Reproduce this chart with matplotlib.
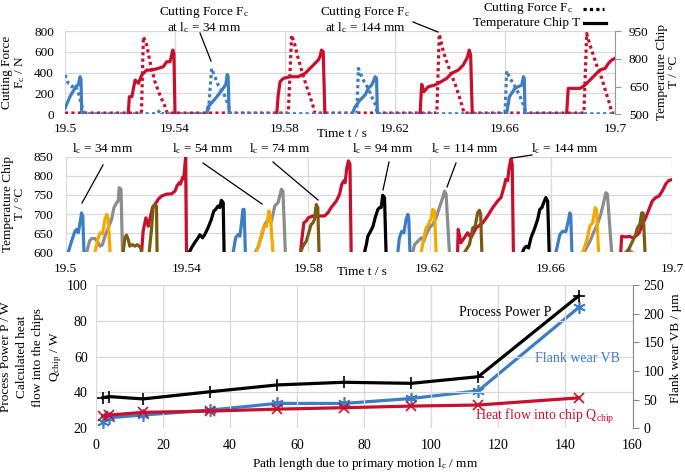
import numpy as np
import matplotlib
matplotlib.use("Agg")
import matplotlib.pyplot as plt
from matplotlib.lines import Line2D

plt.rcParams['font.family'] = 'Liberation Serif'
plt.rcParams['mathtext.fontset'] = 'custom'
plt.rcParams['mathtext.rm'] = 'Liberation Serif'
plt.rcParams['mathtext.it'] = 'Liberation Serif:italic'

W, H = 685, 473

# farben
blau = '#3C7DC4'
rot = '#C8102E'
orange = '#F5A800'
grau = '#8C8C8C'
braun = '#7B5A12'
gitter = '#D9D9D9'

# ---------------- panel 1: cutting force (N) over time offset in ms from 19.5 s
f_blue_ms = [0, 1.2, 2.4, 3.6, 4.8, 5.7, 6.7, 7.3, 33.5, 34.5, 35.3,
             52.1, 53.3, 54.5, 55.7, 57.0, 58.2, 59.4, 60.3,
             106.1, 106.7, 107.9, 109.1, 110.3, 111.5, 112.7, 113.6,
             160.0, 160.6, 161.8, 163.0, 164.3, 165.5, 166.7, 167.6, 200]
f_blue = [377, 297, 265, 281, 217, 121, 25, 5, 5, 40, 5,
          5, 441, 361, 281, 233, 169, 89, 5,
          5, 441, 361, 297, 249, 169, 105, 5,
          5, 416, 345, 297, 233, 169, 89, 5, 5]
f_red_ms = [0, 27.8, 28.5, 29.7, 30.9, 32.7, 34.5, 36.4, 37.2,
            81.2, 82.4, 83.6, 84.8, 86.7, 88.5, 90.1, 90.9,
            135.2, 136.1, 137.6, 138.8, 140.6, 142.4, 144.3, 145.1,
            188.7, 189.7, 190.9, 192.1, 193.3, 195.2, 197.0, 198.2, 198.8, 200]
f_red = [12, 12, 745, 665, 505, 313, 185, 73, 12,
         12, 761, 665, 537, 361, 217, 89, 12,
         12, 770, 601, 505, 377, 249, 89, 12,
         12, 777, 665, 569, 473, 345, 185, 89, 12, 12]

# panel 1: chip temperature pulses (°C)
temp34_pulses = [
    ([0, 1.8, 3.6, 4.2, 4.8, 5.5, 5.8, 6.1], [533, 595, 641, 655, 658, 703, 690, 500]),
    ([51.5, 52.0, 53.5, 55.5, 57.0, 58.0, 58.5, 59.0, 59.3, 59.7], [500, 540, 565, 600, 630, 650, 665, 715, 705, 500]),
    ([104.3, 105.5, 107.3, 109.1, 110.3, 111.5, 112.1, 112.8, 113.3, 113.6], [500, 541, 577, 604, 640, 658, 676, 703, 695, 500]),
    ([160.6, 161.6, 162.4, 163.6, 164.8, 166.1, 166.7, 167.0, 167.3], [500, 595, 613, 640, 649, 658, 703, 695, 500]),
]
temp144_pulses = [
    ([23.0, 23.4, 24.3, 25.5, 26.7, 27.9, 29.7, 31.5, 33.9, 35.7, 37.0, 38.2, 39.2, 39.6, 40.0],
     [500, 595, 595, 685, 668, 712, 739, 739, 748, 757, 784, 784, 847, 830, 500]),
    ([77.0, 77.5, 78.2, 79.4, 81.8, 84.8, 87.3, 89.1, 90.9, 92.1, 92.7, 93.3, 93.9, 94.5],
     [500, 600, 676, 694, 703, 703, 721, 748, 775, 793, 811, 847, 838, 500]),
    ([129.1, 129.7, 130.5, 132.1, 134.5, 136.4, 138.8, 140.6, 143.0, 144.8, 145.8, 146.4, 147.0, 147.5, 148.1],
     [500, 662, 622, 649, 658, 673, 694, 721, 739, 766, 793, 811, 847, 820, 500]),
    ([182.4, 183.0, 184.8, 187.3, 189.1, 190.9, 192.7, 194.5, 196.4, 197.6, 198.8, 200],
     [500, 640, 640, 640, 658, 685, 712, 739, 748, 775, 793, 802]),
]

# ---------------- panel 2: chip temperature for all path lengths
p2_lc34 = [
    ([0.8, 1.9, 3.0, 3.6, 4.1, 4.7, 5.2, 5.6, 6.0], [600, 629, 655, 660, 651, 677, 703, 694, 600]),
    ([55.2, 56.0, 56.8, 57.4, 57.9, 58.4, 58.8, 59.2], [600, 638, 646, 642, 673, 712, 712, 600]),
    ([109.5, 110.0, 110.8, 111.5, 112.2, 112.8, 113.1, 113.5], [600, 638, 655, 651, 686, 699, 690, 600]),
    ([161.6, 162.2, 162.9, 163.8, 164.9, 165.8, 166.2, 166.5, 166.9], [600, 620, 646, 655, 654, 686, 703, 698, 600]),
]
p2_lc54 = [
    ([9.6, 10.7, 11.3, 12.1, 12.9, 13.5, 14.0, 14.6], [600, 638, 651, 648, 686, 699, 686, 600]),
    ([62.8, 63.8, 64.8, 65.5, 66.2, 67.0, 67.5, 68.3], [600, 625, 655, 670, 668, 708, 690, 600]),
    ([117.2, 118.1, 118.8, 119.6, 120.5, 121.0, 121.6, 122.1], [600, 638, 664, 673, 690, 712, 708, 600]),
    ([170.4, 171.0, 172.0, 172.8, 173.7, 174.6, 175.0, 175.7], [600, 612, 638, 668, 677, 717, 712, 600]),
]
p2_lc74 = [
    ([18.9, 19.5, 20.0, 20.6, 21.1, 22.0, 22.8, 23.6, 24.2, 24.7, 25.0], [600, 638, 645, 633, 616, 620, 616, 620, 616, 611, 600]),
    ([27.5, 28.3, 28.8, 29.4, 29.9, 30.1], [600, 664, 721, 724, 721, 600]),
    ([77.4, 78.2, 79.3, 80.1, 80.9, 81.5, 82.0, 82.6, 83.1, 83.5], [600, 616, 629, 651, 673, 677, 686, 725, 717, 600]),
    ([131.5, 132.3, 133.1, 134.2, 135.0, 135.8, 136.4, 136.8, 137.2], [600, 610, 620, 664, 668, 703, 710, 700, 600]),
    ([185.2, 185.8, 186.9, 187.9, 188.5, 189.3, 189.9, 190.4, 191.0], [600, 611, 629, 646, 664, 673, 703, 703, 600]),
]
p2_lc94 = [
    ([40.7, 41.4, 42.5, 43.6, 44.2, 45.1, 45.8, 46.9, 48.0, 48.8, 49.4, 50.2, 50.8, 51.3, 51.9, 52.2],
     [600, 611, 625, 638, 646, 638, 646, 664, 686, 708, 712, 721, 717, 736, 730, 600]),
    ([98.5, 99.1, 99.6, 100.5, 101.3, 102.0, 102.9, 103.5, 104.0, 104.5, 105.1, 105.6],
     [600, 620, 642, 655, 668, 690, 712, 717, 717, 749, 743, 600]),
    ([150.6, 151.2, 151.9, 152.6, 153.4, 154.5, 155.6, 156.3, 157.0, 157.8, 158.3, 158.9, 159.4],
     [600, 611, 616, 611, 638, 660, 686, 712, 717, 734, 743, 734, 600]),
]
p2_lc114 = [
    ([6.9, 7.8, 8.5, 9.6, 10.7, 11.3, 12.1, 12.9, 14.0, 15.1, 15.9, 16.8, 17.3, 17.6, 18.2, 18.7],
     [600, 629, 636, 636, 625, 616, 620, 642, 664, 686, 717, 730, 734, 769, 765, 600]),
    ([62.5, 63.5, 64.5, 65.6, 66.7, 67.8, 68.9, 70.0, 71.1, 71.6, 72.4],
     [600, 615, 640, 673, 686, 680, 721, 730, 765, 760, 600]),
    ([114.4, 115.0, 116.1, 117.2, 118.1, 118.8, 119.9, 121.0, 122.1, 123.2, 124.3, 124.9, 125.4, 126.5],
     [600, 620, 629, 638, 629, 646, 664, 673, 690, 717, 743, 760, 752, 600]),
    ([170.9, 172.0, 173.1, 174.2, 175.3, 176.4, 177.2, 178.1, 178.6, 180.0],
     [600, 616, 633, 655, 673, 699, 725, 756, 752, 600]),
    ([184.5, 185.5, 186.7], [600, 607, 600]),
]
p2_lc144 = [
    ([25.0, 25.5, 26.4, 27.2, 27.7, 28.6, 29.4, 30.5, 31.6, 33.2, 34.9, 36.0, 36.7, 37.4, 37.8, 38.5, 38.9, 39.5, 39.8],
     [600, 655, 690, 668, 686, 717, 725, 739, 747, 752, 753, 760, 774, 782, 778, 796, 792, 848, 600]),
    ([77.4, 77.9, 78.5, 79.3, 79.9, 81.5, 83.7, 85.3, 86.4, 87.5, 89.2, 90.3, 91.0, 91.7, 92.1, 92.7, 93.2, 93.7, 94.1],
     [600, 638, 677, 682, 690, 695, 695, 695, 703, 717, 734, 752, 778, 787, 782, 822, 839, 831, 600]),
    ([129.2, 129.4, 130.3, 131.4, 132.5, 133.6, 134.7, 135.3, 137.5, 139.1, 140.8, 142.4, 143.5, 144.6, 145.1, 145.7, 146.2, 146.8, 147.2, 147.6],
     [600, 660, 625, 638, 651, 638, 655, 664, 677, 695, 717, 734, 743, 774, 791, 787, 822, 844, 830, 600]),
    ([183.0, 183.3, 184.7, 185.8, 186.9, 187.9, 189.1, 190.1, 191.2, 192.3, 193.4, 194.5, 195.6, 196.7, 197.8, 198.7, 199.8],
     [600, 642, 640, 642, 638, 642, 651, 673, 690, 712, 734, 743, 747, 760, 778, 787, 790]),
]

# ---------------- panel 3
lc = [2, 4, 14, 34, 54, 74, 94, 114, 144]
power_P = [37.1, 37.7, 36.4, 40.4, 44.2, 45.7, 45.1, 48.8, 94.0]
heat_Q = [27.0, 27.4, 28.9, 29.6, 30.7, 31.5, 32.4, 33.0, 37.0]
wear_VB = [11.6, 18.5, 23.1, 31.8, 43.4, 43.4, 52.0, 65.4, 211.0]


def zeit(ms):
    return 19.5 + np.array(ms) / 1000.0


def px(x, y):
    return x / W, 1 - y / H


def strich(xa, ya, xb, yb, **kw):
    fig.add_artist(Line2D([xa / W, xb / W], [1 - ya / H, 1 - yb / H], **kw))


fig = plt.figure(figsize=(W / 100, H / 100), dpi=100)

# ======== panel 1
ax1 = fig.add_axes([65 / W, 1 - 114.3 / H, 550 / W, 83.3 / H])
ax1t = ax1.twinx()
ax1.plot(zeit(f_blue_ms), f_blue, color=blau, lw=2.3, ls=(0, (1, 1)), zorder=3)
ax1.plot(zeit(f_red_ms), f_red, color=rot, lw=2.3, ls=(0, (1, 1)), zorder=2)
for ms, T in temp34_pulses:
    ax1t.plot(zeit(ms), T, color=blau, lw=2.3, solid_joinstyle='round')
for ms, T in temp144_pulses:
    ax1t.plot(zeit(ms), T, color=rot, lw=2.3, solid_joinstyle='round')
ax1.set_xlim(19.5, 19.7)
ax1.set_ylim(0, 800)
ax1t.set_ylim(500, 950)
ax1.set_yticks([0, 200, 400, 600, 800])
ax1t.set_yticks([500, 650, 800, 950])
xt = [19.5, 19.54, 19.58, 19.62, 19.66, 19.7]
ax1.set_xticks(xt)
ax1.set_xticklabels(['19.5', '19.54', '19.58', '19.62', '19.66', '19.7'])
ax1.grid(True, color=gitter, lw=0.9)
ax1.set_axisbelow(True)
for s in ['left', 'top', 'bottom']:
    ax1.spines[s].set_visible(False)
    ax1t.spines[s].set_visible(False)
ax1.spines['right'].set_visible(False)
ax1t.spines['right'].set_color('#999999')
ax1.tick_params(axis='both', length=0, labelsize=9.5)
ax1.tick_params(axis='y', pad=8)
ax1.tick_params(axis='x', pad=6)
ax1t.tick_params(axis='y', length=4, color='#999999', labelsize=9.5, pad=6)

# ======== panel 2
ax2 = fig.add_axes([65.8 / W, 1 - 252.3 / H, 606.5 / W, 95.6 / H])
for farbe, pulse in [(rot, p2_lc144), (grau, p2_lc114), (orange, p2_lc54),
                     ('black', p2_lc94), (blau, p2_lc34), (braun, p2_lc74)]:
    for ms, T in pulse:
        ax2.plot(zeit(ms), T, color=farbe, lw=2.3, solid_joinstyle='round')
ax2.set_xlim(19.5, 19.7)
ax2.set_ylim(600, 850)
ax2.set_yticks([600, 650, 700, 750, 800, 850])
ax2.set_xticks(xt)
ax2.set_xticklabels(['19.5', '19.54', '19.58', '19.62', '19.66', '19.7'])
ax2.grid(True, color=gitter, lw=0.9)
ax2.set_axisbelow(True)
for s in ax2.spines.values():
    s.set_visible(False)
ax2.tick_params(axis='both', length=0, labelsize=9.5)
ax2.tick_params(axis='y', pad=9)
ax2.tick_params(axis='x', pad=8)

# ======== panel 3
ax3 = fig.add_axes([96 / W, 1 - 428.3 / H, 536.5 / W, 143.3 / H])
ax3t = ax3.twinx()
ax3.plot(lc, heat_Q, color=rot, lw=2.3, marker='x', ms=7, mew=1.2, zorder=2)
ax3.plot(lc, power_P, color='black', lw=2.3, marker='+', ms=9, mew=1.2, zorder=4)
ax3t.plot(lc, wear_VB, color=blau, lw=2.3, marker=(6, 2, 0), ms=9, mew=1.2, zorder=3)
ax3.set_zorder(ax3t.get_zorder() + 1)
ax3.patch.set_visible(False)
ax3.set_xlim(0, 160)
ax3.set_ylim(20, 100)
ax3t.set_ylim(0, 250)
ax3.set_xticks(range(0, 161, 20))
ax3.set_yticks(range(20, 101, 20))
ax3t.set_yticks(range(0, 251, 50))
ax3.grid(True, color=gitter, lw=0.9)
for s in ['left', 'top', 'bottom']:
    ax3.spines[s].set_visible(False)
    ax3t.spines[s].set_visible(False)
ax3.spines['right'].set_visible(False)
ax3t.spines['right'].set_color('#888888')
ax3.tick_params(axis='both', length=0, labelsize=10)
ax3.tick_params(axis='y', pad=6)
ax3.tick_params(axis='x', pad=8)
ax3t.tick_params(axis='y', length=4, color='#888888', labelsize=10, pad=4)

ax3.text(122, 82.9, 'Process Power P', fontsize=10, ha='center', va='baseline', color='black')
ax3.text(143.6, 57.2, 'Flank wear VB', fontsize=10, ha='center', va='baseline', color=blau)
ax3.text(133.7, 24.6, 'Heat flow into chip Q$_\\mathrm{chip}$', fontsize=10, ha='center', va='baseline', color=rot)

# ======== achsentitel
fs = 9.5
fig.text(*px(14, 72), 'Cutting Force\nF$_\\mathrm{c}$ / N', rotation=90, ha='center', va='center', fontsize=fs, linespacing=1.1)
fig.text(*px(668, 72), 'Temperature Chip\nT / °C', rotation=90, ha='center', va='center', fontsize=fs, linespacing=1.1)
fig.text(*px(342, 134), 'Time t / s', ha='center', va='center', fontsize=fs)
fig.text(*px(14, 204), 'Temperature Chip\nT / °C', rotation=90, ha='center', va='center', fontsize=fs, linespacing=1.1)
fig.text(*px(362, 272), 'Time t / s', ha='center', va='center', fontsize=fs)
fig.text(*px(32, 357), 'Process Power P / W\nCalculated heat\nflow into the chips\nQ$_\\mathrm{chip}$ / W',
         rotation=90, ha='center', va='center', fontsize=fs, linespacing=1.45)
fig.text(*px(676, 348), 'Flank wear VB / µm', rotation=90, ha='center', va='center', fontsize=fs)
fig.text(*px(365, 464), 'Path length due to primary motion l$_\\mathrm{c}$ / mm', ha='center', va='center', fontsize=fs)

# ======== beschriftungen panel 1
fig.text(*px(204, 12), 'Cutting Force F$_\\mathrm{c}$', ha='center', va='center', fontsize=fs)
fig.text(*px(204, 28), 'at l$_\\mathrm{c}$ = 34 mm', ha='center', va='center', fontsize=fs)
fig.text(*px(365, 12), 'Cutting Force F$_\\mathrm{c}$', ha='center', va='center', fontsize=fs)
fig.text(*px(365, 28), 'at l$_\\mathrm{c}$ = 144 mm', ha='center', va='center', fontsize=fs)
strich(200, 33, 211, 61, color='black', lw=0.9)
strich(413, 22, 438, 32, color='black', lw=0.9)

# legende oben rechts
fig.text(*px(573, 9), 'Cutting Force F$_\\mathrm{c}$', ha='right', va='center', fontsize=fs)
fig.text(*px(580, 23), 'Temperature Chip T', ha='right', va='center', fontsize=fs)
strich(583, 9, 604, 9, color='black', lw=2.3, ls=(0, (1, 1)))
strich(584, 23, 606, 23, color='black', lw=2.3)

# ======== beschriftungen panel 2
for x, txt in [(103, '34'), (203, '54'), (280, '74'), (383, '94'), (465, '114'), (565, '144')]:
    fig.text(*px(x, 149), 'l$_\\mathrm{c}$ = ' + txt + ' mm', ha='center', va='center', fontsize=fs)
for xa, ya, xb, yb in [(103, 165, 82, 203), (203, 163, 262, 204), (273, 162, 318, 200),
                       (389, 162, 383, 190), (456, 163, 447, 187), (532, 155, 512, 158)]:
    strich(xa, ya, xb, yb, color='black', lw=0.9)

fig.savefig('out.png', dpi=100)
